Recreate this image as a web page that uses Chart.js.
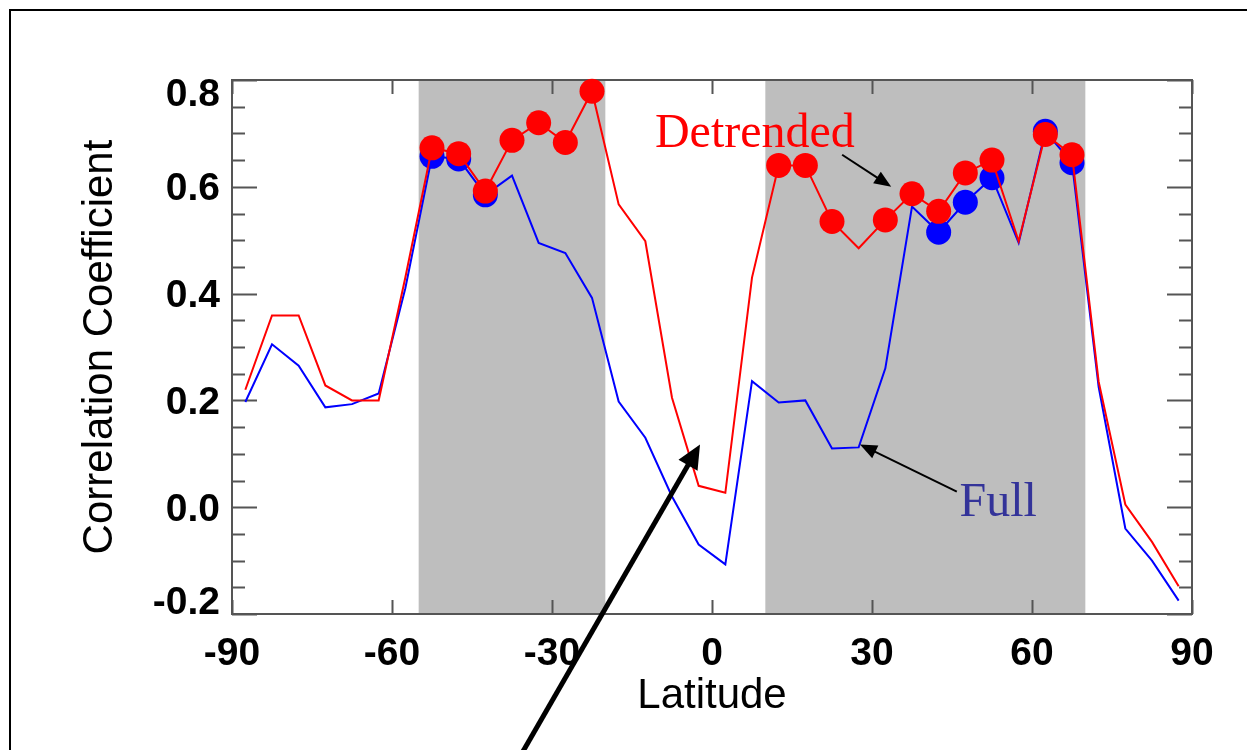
<!DOCTYPE html>
<html>
<head>
<meta charset="utf-8">
<script src="https://cdn.jsdelivr.net/npm/chart.js@4"></script>
<style>
  body { margin: 0; background: #fff; }
  #wrap { position: relative; width: 1247px; height: 750px; overflow: hidden; background: #fff; }
  #frame { position: absolute; left: 9px; top: 9px; width: 1300px; height: 800px; border-left: 2px solid #000; border-top: 2px solid #000; }
  canvas { position: absolute; left: 0; top: 0; }
</style>
</head>
<body>
<div id="wrap">
  <div id="frame"></div>
  <canvas id="corr" width="1247" height="750"></canvas>
</div>
<script>
// latitude band centres (5 degree bins)
const latitudes = [
  -87.5, -82.5, -77.5, -72.5, -67.5, -62.5, -57.5, -52.5, -47.5, -42.5, -37.5, -32.5,
  -27.5, -22.5, -17.5, -12.5, -7.5, -2.5, 2.5, 7.5, 12.5, 17.5, 22.5, 27.5,
  32.5, 37.5, 42.5, 47.5, 52.5, 57.5, 62.5, 67.5, 72.5, 77.5, 82.5, 87.5,
];
const fullCorr = [
  0.197, 0.305, 0.265, 0.187, 0.193, 0.213, 0.41, 0.657, 0.652, 0.585, 0.621, 0.495,
  0.476, 0.392, 0.198, 0.13, 0.02, -0.07, -0.107, 0.236, 0.196, 0.2, 0.11, 0.112,
  0.26, 0.563, 0.515, 0.571, 0.617, 0.495, 0.704, 0.645, 0.225, -0.04, -0.1, -0.175,
];
const detrendedCorr = [
  0.22, 0.359, 0.359, 0.228, 0.2, 0.2, 0.43, 0.673, 0.662, 0.592, 0.687, 0.72,
  0.683, 0.779, 0.567, 0.498, 0.205, 0.04, 0.027, 0.43, 0.64, 0.64, 0.535, 0.485,
  0.538, 0.587, 0.554, 0.626, 0.65, 0.498, 0.698, 0.66, 0.235, 0.005, -0.065, -0.148,
];
// 1 = marked with a dot
const fullMarked = [
  0, 0, 0, 0, 0, 0, 0, 1, 1, 1, 0, 0,
  0, 0, 0, 0, 0, 0, 0, 0, 0, 0, 0, 0,
  0, 0, 1, 1, 1, 0, 1, 1, 0, 0, 0, 0,
];
const detrendedMarked = [
  0, 0, 0, 0, 0, 0, 0, 1, 1, 1, 1, 1,
  1, 1, 0, 0, 0, 0, 0, 0, 1, 1, 1, 0,
  1, 1, 1, 1, 1, 0, 1, 1, 0, 0, 0, 0,
];
// grey latitude bands
const shadedFrom = [-55, 10];
const shadedTo = [-20, 70];
const xTicks = [-90, -60, -30, 0, 30, 60, 90];
const yTicks = [-0.2, 0.0, 0.2, 0.4, 0.6, 0.8];

const tickFont = 'bold 39px "Liberation Sans"';
const axisColor = "#555";

// text labels and arrows, in data coordinates (lat, value)
const notes = [
  { text: "Detrended", lat: -10.7, value: 0.675, color: "#ff0000" },
  { text: "Full", lat: 46.4, value: -0.017, color: "#333399" },
];
const arrows = [
  { from: [24.4, 0.66], to: [33.6, 0.6], width: 2, head: 17, half: 7 },
  { from: [45.9, 0.029], to: [27.75, 0.1175], width: 2, head: 17, half: 7 },
  { from: [-35.6, -0.46], to: [-2.25, 0.1175], width: 5, head: 24, half: 11 },
];

const plotDecor = {
  id: "plotDecor",
  beforeDatasetsDraw: (chart) => {
    const ctx = chart.ctx;
    const area = chart.chartArea;
    const xs = chart.scales.x;
    const ys = chart.scales.y;
    ctx.save();
    // shaded bands
    ctx.fillStyle = "#bebebe";
    shadedFrom.forEach((from, i) => {
      const x0 = xs.getPixelForValue(from);
      const x1 = xs.getPixelForValue(shadedTo[i]);
      ctx.fillRect(x0, area.top, x1 - x0, area.bottom - area.top);
    });
    // frame
    ctx.strokeStyle = axisColor;
    ctx.lineWidth = 2;
    ctx.strokeRect(area.left, area.top, area.right - area.left, area.bottom - area.top);
    // y ticks, both sides, minor every 0.05
    ctx.beginPath();
    for (let k = 0; k <= 20; k++) {
      const py = Math.round(ys.getPixelForValue(-0.2 + k * 0.05)) + 0.5;
      const len = k % 4 === 0 ? 25 : 13;
      ctx.moveTo(area.left, py);
      ctx.lineTo(area.left + len, py);
      ctx.moveTo(area.right, py);
      ctx.lineTo(area.right - len, py);
    }
    // x ticks, top and bottom
    xTicks.forEach((v) => {
      const px = Math.round(xs.getPixelForValue(v)) + 0.5;
      ctx.moveTo(px, area.bottom);
      ctx.lineTo(px, area.bottom - 14);
      ctx.moveTo(px, area.top);
      ctx.lineTo(px, area.top + 14);
    });
    ctx.stroke();
    // tick labels
    ctx.fillStyle = "#000";
    ctx.font = tickFont;
    ctx.textBaseline = "alphabetic";
    ctx.textAlign = "right";
    yTicks.forEach((v) => {
      let py = ys.getPixelForValue(v);
      py = Math.min(Math.max(py, area.top + 12), area.bottom - 14);
      ctx.fillText(v.toFixed(1), area.left - 12, py + 13.5);
    });
    ctx.textAlign = "center";
    xTicks.forEach((v) => {
      ctx.fillText(String(v), xs.getPixelForValue(v), area.bottom + 51);
    });
    ctx.restore();
  },
  afterDraw: (chart) => {
    const ctx = chart.ctx;
    const xs = chart.scales.x;
    const ys = chart.scales.y;
    ctx.save();
    ctx.font = '48px "Liberation Serif"';
    ctx.textAlign = "left";
    ctx.textBaseline = "alphabetic";
    notes.forEach((n) => {
      ctx.fillStyle = n.color;
      ctx.fillText(n.text, xs.getPixelForValue(n.lat), ys.getPixelForValue(n.value));
    });
    ctx.fillStyle = "#000";
    ctx.strokeStyle = "#000";
    arrows.forEach((a) => {
      const x0 = xs.getPixelForValue(a.from[0]);
      const y0 = ys.getPixelForValue(a.from[1]);
      const x1 = xs.getPixelForValue(a.to[0]);
      const y1 = ys.getPixelForValue(a.to[1]);
      const d = Math.hypot(x1 - x0, y1 - y0);
      const ux = (x1 - x0) / d;
      const uy = (y1 - y0) / d;
      ctx.lineWidth = a.width;
      ctx.beginPath();
      ctx.moveTo(x0, y0);
      ctx.lineTo(x1 - ux * a.head * 0.8, y1 - uy * a.head * 0.8);
      ctx.stroke();
      const bx = x1 - ux * a.head;
      const by = y1 - uy * a.head;
      ctx.beginPath();
      ctx.moveTo(x1, y1);
      ctx.lineTo(bx - uy * a.half, by + ux * a.half);
      ctx.lineTo(bx + uy * a.half, by - ux * a.half);
      ctx.closePath();
      ctx.fill();
    });
    ctx.restore();
  },
};

function seriesPoints(values) {
  return latitudes.map((lat, i) => ({ x: lat, y: values[i] }));
}

const config = {
  type: "line",
  data: {
    datasets: [
      {
        label: "Detrended",
        data: seriesPoints(detrendedCorr),
        borderColor: "#ff0000",
        backgroundColor: "#ff0000",
        borderWidth: 2,
        pointRadius: detrendedMarked.map((m) => (m ? 12.5 : 0)),
        pointBorderWidth: 0,
        order: 1,
      },
      {
        label: "Full",
        data: seriesPoints(fullCorr),
        borderColor: "#0000ff",
        backgroundColor: "#0000ff",
        borderWidth: 2,
        pointRadius: fullMarked.map((m) => (m ? 12.5 : 0)),
        pointBorderWidth: 0,
        order: 2,
      },
    ],
  },
  options: {
    responsive: false,
    animation: false,
    devicePixelRatio: 1,
    clip: false,
    layout: {
      padding: { left: 12, right: 55, top: 80, bottom: 0 },
    },
    elements: {
      line: { tension: 0, fill: false },
      point: { pointStyle: "circle", hoverRadius: 12.5 },
    },
    plugins: {
      legend: { display: false },
      tooltip: { enabled: false },
    },
    scales: {
      x: {
        type: "linear",
        min: -90,
        max: 90,
        grid: { display: false },
        border: { display: false },
        ticks: { display: false, stepSize: 30 },
        title: {
          display: true,
          text: "Latitude",
          color: "#000",
          font: { family: "Liberation Sans", size: 42 },
          padding: { top: 0, bottom: 28 },
        },
        afterFit: (scale) => {
          scale.height = 136;
        },
      },
      y: {
        min: -0.2,
        max: 0.8,
        grid: { display: false },
        border: { display: false },
        ticks: { display: false, stepSize: 0.2 },
        title: {
          display: true,
          text: "Correlation Coefficient",
          color: "#000",
          font: { family: "Liberation Sans", size: 42 },
          padding: { top: 63, bottom: 0 },
        },
        afterFit: (scale) => {
          scale.width = 220;
        },
      },
    },
  },
  plugins: [plotDecor],
};

new Chart(document.getElementById("corr"), config);
</script>
</body>
</html>
